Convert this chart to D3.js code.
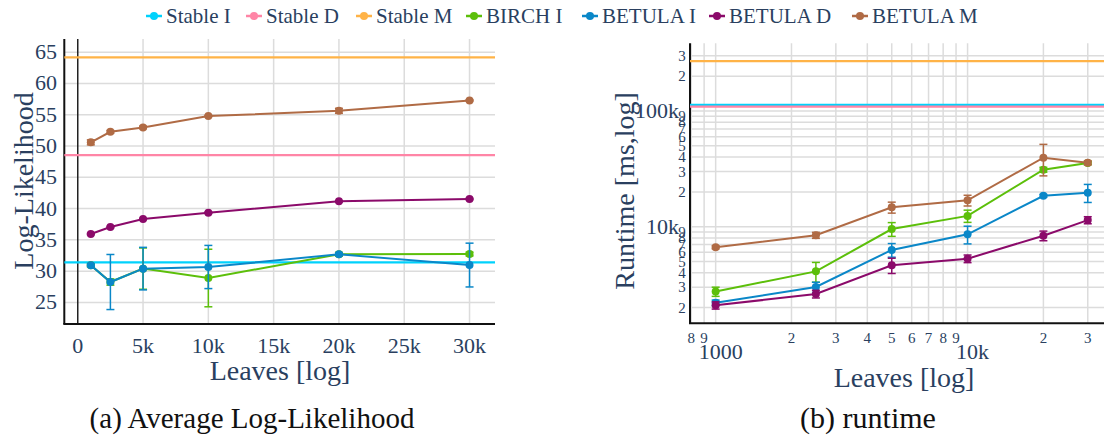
<!DOCTYPE html>
<html><head><meta charset="utf-8">
<script src="https://cdn.jsdelivr.net/npm/d3@7"></script>
<style>
html,body{margin:0;padding:0;background:#fff;}
</style></head>
<body><svg id="c" width="1104" height="439" font-family="'Liberation Serif', 'DejaVu Serif', serif"></svg>
<script>
// ---------- data ----------
const seriesNames = ["Stable I","Stable D","Stable M","BIRCH I","BETULA I","BETULA D","BETULA M"];
const seriesColors = ["#00d2fc","#ff85a6","#ffb347","#5cbf0a","#0a87c8","#8b0a6a","#b06b45"];

const leaves = [1000, 2500, 5000, 10000, 20000, 30000];

// (a) Average log-likelihood
const llStable = [31.4, 48.55, 64.15];            // Stable I, D, M
const llBirchI   = [30.93, 28.26, 30.4, 28.9, 32.7, 32.73];
const llBirchIErr = [0.2, 0.5, 3.3, 4.6, 0.3, 0.3];
const llBetulaI  = [30.93, 28.26, 30.4, 30.66, 32.68, 30.97];
const llBetulaIErr = [0.2, 4.4, 3.4, 3.45, 0.2, 3.5];
const llBetulaD  = [35.93, 37.04, 38.32, 39.33, 41.15, 41.52];
const llBetulaDErr = [0.1, 0.1, 0.1, 0.1, 0.1, 0.1];
const llBetulaM  = [50.58, 52.27, 52.97, 54.78, 55.62, 57.28];
const llBetulaMErr = [0.4, 0.2, 0.2, 0.1, 0.4, 0.1];
const llYTicks = [25, 30, 35, 40, 45, 50, 55, 60, 65];
const llXTicks = [0, 5000, 10000, 15000, 20000, 25000, 30000];
const llXTickLabels = ["0","5k","10k","15k","20k","25k","30k"];

// (b) runtime [ms]
const rtStable = [113000, 109000, 270000];        // Stable I, D, M
const rtBirchI   = [2750, 4110, 9550, 12400, 31100, 35500];
const rtBirchIErr = [250, 800, 1300, 1500, 1500, 1000];
const rtBetulaI  = [2200, 3010, 6300, 8600, 18500, 19700];
const rtBetulaIErr = [120, 300, 850, 1500, 500, 3500];
const rtBetulaD  = [2090, 2620, 4640, 5290, 8360, 11400];
const rtBetulaDErr = [150, 200, 700, 400, 800, 800];
const rtBetulaM  = [6640, 8430, 14700, 16900, 39500, 35700];
const rtBetulaMErr = [200, 500, 1600, 1800, 12000, 1500];

// ---------- drawing ----------
const svg = d3.select("#c");
const FONT_C = "#2a3f5f";
const GRID = "#dcdcdc";

function drawSeries(g, x, y, xs, ys, errs, color) {
  const pts = xs.map((v,i)=>({x:v,y:ys[i],e:errs[i]}));
  g.append("path").datum(pts)
    .attr("d", d3.line().x(d=>x(d.x)).y(d=>y(d.y)))
    .attr("fill","none").attr("stroke",color).attr("stroke-width",2);
  const eb = g.append("g").attr("stroke",color).attr("stroke-width",1.5);
  pts.forEach(d=>{
    const y1 = y(d.y + d.e), y2 = y(d.y - d.e), cx = x(d.x);
    eb.append("line").attr("x1",cx).attr("x2",cx).attr("y1",y1).attr("y2",y2);
    eb.append("line").attr("x1",cx-4).attr("x2",cx+4).attr("y1",y1).attr("y2",y1);
    eb.append("line").attr("x1",cx-4).attr("x2",cx+4).attr("y1",y2).attr("y2",y2);
  });
  g.selectAll(null).data(pts).enter().append("circle")
    .attr("cx",d=>x(d.x)).attr("cy",d=>y(d.y)).attr("r",4).attr("fill",color);
}

// ---------- Legend ----------
const legendX = [146, 246, 356, 466, 582, 709, 852];
const lg = svg.append("g");
seriesNames.forEach((n,i)=>{
  const gx = legendX[i];
  lg.append("line").attr("x1",gx).attr("x2",gx+16).attr("y1",16).attr("y2",16)
    .attr("stroke",seriesColors[i]).attr("stroke-width",2.5);
  lg.append("circle").attr("cx",gx+8).attr("cy",16).attr("r",4).attr("fill",seriesColors[i]);
  lg.append("text").attr("x",gx+20).attr("y",23).attr("font-size",21).attr("fill",FONT_C).text(n);
});

// ---------- Chart (a) ----------
{
  const L = 64.3, R = 495, T = 39, B = 324;
  const x = d3.scaleLinear().domain([-1030, 31950]).range([L, R]);
  const y = d3.scaleLinear().domain([21.55, 67.1]).range([B, T]);
  const g = svg.append("g");
  g.selectAll(null).data(llYTicks).enter().append("line")
    .attr("x1",L).attr("x2",R).attr("y1",d=>y(d)).attr("y2",d=>y(d))
    .attr("stroke",GRID).attr("stroke-width",1.5);
  g.selectAll(null).data(llXTicks.filter(v=>v!==0)).enter().append("line")
    .attr("y1",T).attr("y2",B).attr("x1",d=>x(d)).attr("x2",d=>x(d))
    .attr("stroke",GRID).attr("stroke-width",1.5);
  g.append("line").attr("x1",x(0)).attr("x2",x(0)).attr("y1",T).attr("y2",B)
    .attr("stroke","#222").attr("stroke-width",1.5);
  g.append("line").attr("x1",L).attr("x2",L).attr("y1",T).attr("y2",B).attr("stroke","#111").attr("stroke-width",2);
  g.append("line").attr("x1",L-1).attr("x2",R).attr("y1",B).attr("y2",B).attr("stroke","#111").attr("stroke-width",2);
  llStable.forEach((v,i)=>{
    g.append("line").attr("x1",L).attr("x2",R).attr("y1",y(v)).attr("y2",y(v))
      .attr("stroke",seriesColors[i]).attr("stroke-width",2.2);
  });
  drawSeries(g, x, y, leaves, llBirchI, llBirchIErr, seriesColors[3]);
  drawSeries(g, x, y, leaves, llBetulaI, llBetulaIErr, seriesColors[4]);
  drawSeries(g, x, y, leaves, llBetulaD, llBetulaDErr, seriesColors[5]);
  drawSeries(g, x, y, leaves, llBetulaM, llBetulaMErr, seriesColors[6]);
  g.selectAll(null).data(llYTicks).enter().append("text")
    .attr("x",57).attr("y",d=>y(d)+7).attr("text-anchor","end")
    .attr("font-size",22).attr("fill",FONT_C).text(d=>d);
  g.selectAll(null).data(llXTicks).enter().append("text")
    .attr("x",d=>x(d)).attr("y",353).attr("text-anchor","middle")
    .attr("font-size",22).attr("fill",FONT_C).text((d,i)=>llXTickLabels[i]);
  g.append("text").attr("x",280).attr("y",380).attr("text-anchor","middle")
    .attr("font-size",28).attr("fill",FONT_C).text("Leaves [log]");
  g.append("text").attr("transform","translate(33,181) rotate(-90)").attr("text-anchor","middle")
    .attr("font-size",28).attr("fill",FONT_C).text("Log-Likelihood");
  g.append("text").attr("x",252).attr("y",428).attr("text-anchor","middle")
    .attr("font-size",29).attr("fill","#111").text("(a) Average Log-Likelihood");
}

// ---------- Chart (b) ----------
{
  const L = 690, R = 1104, T = 43.3, B = 323.3;
  const x = d3.scaleLog().domain([791, 34800]).range([L, R]);
  const y = d3.scaleLog().domain([1462, 385000]).range([B, T]);
  const g = svg.append("g");
  const xt = x.ticks().filter(v=>v>=791 && v<=34800);
  const yt = y.ticks().filter(v=>v>=1462 && v<=385000);
  g.selectAll(null).data(yt).enter().append("line")
    .attr("x1",L).attr("x2",R).attr("y1",d=>y(d)).attr("y2",d=>y(d))
    .attr("stroke",GRID).attr("stroke-width",1.5);
  g.selectAll(null).data(xt).enter().append("line")
    .attr("y1",T).attr("y2",B).attr("x1",d=>x(d)).attr("x2",d=>x(d))
    .attr("stroke",GRID).attr("stroke-width",1.5);
  g.append("line").attr("x1",L).attr("x2",L).attr("y1",T).attr("y2",B).attr("stroke","#111").attr("stroke-width",2);
  g.append("line").attr("x1",L-1).attr("x2",R).attr("y1",B).attr("y2",B).attr("stroke","#111").attr("stroke-width",2);
  rtStable.forEach((v,i)=>{
    g.append("line").attr("x1",L).attr("x2",R).attr("y1",y(v)).attr("y2",y(v))
      .attr("stroke",seriesColors[i]).attr("stroke-width",2.2);
  });
  drawSeries(g, x, y, leaves, rtBirchI, rtBirchIErr, seriesColors[3]);
  drawSeries(g, x, y, leaves, rtBetulaI, rtBetulaIErr, seriesColors[4]);
  drawSeries(g, x, y, leaves, rtBetulaD, rtBetulaDErr, seriesColors[5]);
  drawSeries(g, x, y, leaves, rtBetulaM, rtBetulaMErr, seriesColors[6]);
  const isMajor = v => Math.abs(Math.log10(v) - Math.round(Math.log10(v))) < 1e-9;
  const majLabel = v => v >= 1e4 ? (v/1000)+"k" : String(v);
  yt.forEach(v=>{
    if (isMajor(v)) {
      g.append("text").attr("x",679).attr("y",y(v)+7).attr("text-anchor","end")
        .attr("font-size",22).attr("fill",FONT_C).text(majLabel(v));
    } else {
      g.append("text").attr("x",682).attr("y",y(v)+5).attr("text-anchor","middle")
        .attr("font-size",15).attr("fill",FONT_C).text(String(v).charAt(0));
    }
  });
  xt.forEach(v=>{
    if (isMajor(v)) {
      g.append("text").attr("x",x(v)+5).attr("y",359).attr("text-anchor","middle")
        .attr("font-size",22).attr("fill",FONT_C).text(majLabel(v));
    } else {
      g.append("text").attr("x",x(v)).attr("y",343).attr("text-anchor","middle")
        .attr("font-size",15).attr("fill",FONT_C).text(String(v).charAt(0));
    }
  });
  g.append("text").attr("x",904).attr("y",387).attr("text-anchor","middle")
    .attr("font-size",28).attr("fill",FONT_C).text("Leaves [log]");
  g.append("text").attr("transform","translate(634,191) rotate(-90)").attr("text-anchor","middle")
    .attr("font-size",28).attr("fill",FONT_C).text("Runtime [ms,log]");
  g.append("text").attr("x",868).attr("y",428).attr("text-anchor","middle")
    .attr("font-size",30).attr("fill","#111").text("(b) runtime");
}
</script></body></html>
